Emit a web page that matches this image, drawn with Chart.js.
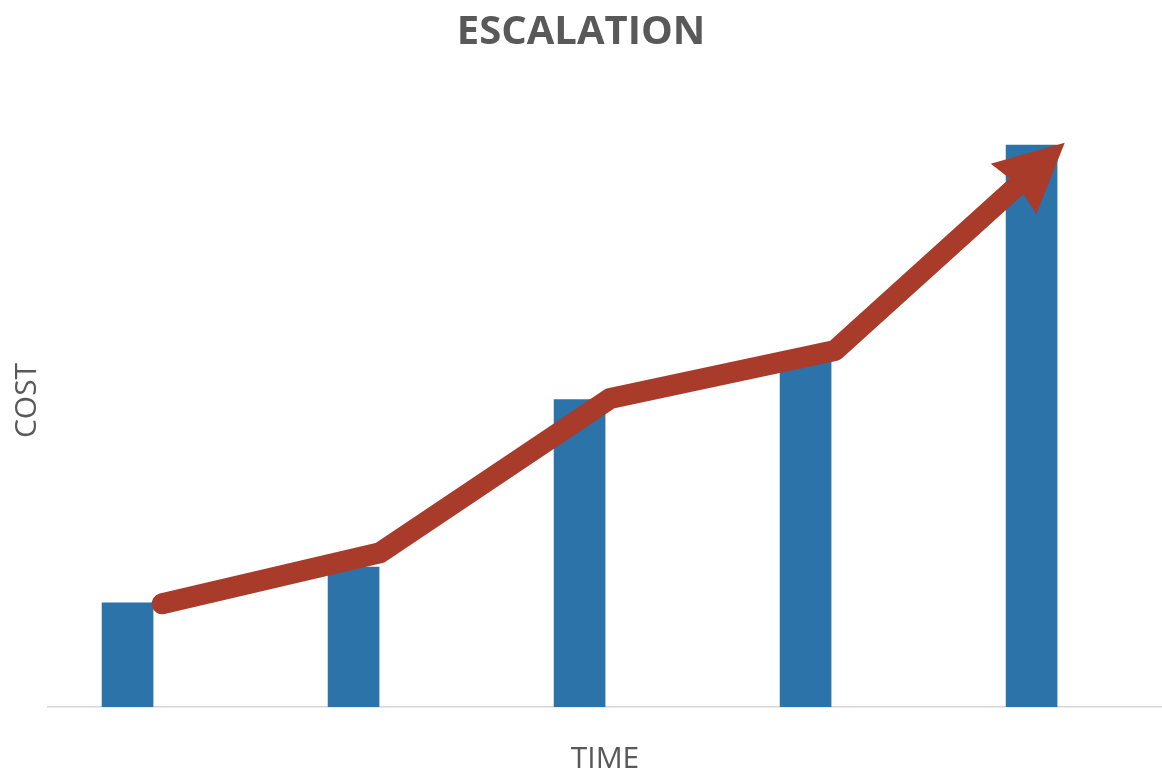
<!DOCTYPE html>
<html>
<head>
<meta charset="utf-8">
<script src="https://cdn.jsdelivr.net/npm/chart.js@4/dist/chart.umd.min.js"></script>
<style>
  html, body { margin: 0; padding: 0; background: #fff; }
  #wrap { width: 1162px; height: 773px; }
</style>
</head>
<body>
<div id="wrap"><canvas id="escalation" width="1162" height="773"></canvas></div>
<script>
// bars: one per period, cost
const periods = [1, 2, 3, 4, 5];
const costBars = [1.02, 1.37, 3.01, 3.38, 5.5];

// trend arrow vertices (sits a bit right of each bar centre)
const trendX = [1.153, 2.117, 3.135, 4.13, 4.93];
const trendY = [1.01, 1.51, 3.02, 3.49, 5.09];

const BLUE = '#2b73a9';
const RED = '#a93b2b';
const GREY = '#595959';

const arrowHead = {
  id: 'arrowHead',
  afterDatasetsDraw(chart) {
    const meta = chart.getDatasetMeta(1);
    const pts = meta.data;
    if (pts.length < 2) return;
    const a = pts[pts.length - 2], b = pts[pts.length - 1];
    const dx = b.x - a.x, dy = b.y - a.y;
    const len = Math.hypot(dx, dy);
    const ux = dx / len, uy = dy / len;
    const px = -uy, py = ux;
    const L = 66, W = 34;
    const ctx = chart.ctx;
    ctx.save();
    ctx.fillStyle = RED;
    ctx.beginPath();
    ctx.moveTo(b.x + ux * L, b.y + uy * L);
    ctx.lineTo(b.x + px * W - ux * 3, b.y + py * W - uy * 3);
    ctx.lineTo(b.x + ux * 3, b.y + uy * 3);
    ctx.lineTo(b.x - px * W - ux * 3, b.y - py * W - uy * 3);
    ctx.closePath();
    ctx.fill();
    ctx.restore();
  }
};

const ctx = document.getElementById('escalation').getContext('2d');
new Chart(ctx, {
  type: 'bar',
  data: {
    datasets: [
      {
        type: 'bar',
        data: periods.map((p, i) => ({ x: p, y: costBars[i] })),
        backgroundColor: BLUE,
        barThickness: 51,
        order: 2
      },
      {
        type: 'line',
        data: trendX.map((x, i) => ({ x, y: trendY[i] })),
        borderColor: RED,
        borderWidth: 21,
        borderCapStyle: 'round',
        borderJoinStyle: 'round',
        pointRadius: 0,
        tension: 0,
        order: 1
      }
    ]
  },
  options: {
    responsive: false,
    animation: false,
    layout: { padding: 0 },
    plugins: {
      legend: { display: false },
      tooltip: { enabled: false },
      title: {
        display: true,
        text: 'ESCALATION',
        color: GREY,
        font: { family: 'Open Sans', size: 40, weight: 'bold', lineHeight: 1.2 },
        padding: { top: 9, bottom: 37 }
      }
    },
    scales: {
      x: {
        type: 'linear',
        min: 0.648,
        max: 5.577,
        offset: false,
        grid: { display: false },
        ticks: { display: false },
        border: { display: true, color: '#d6d6d6', width: 1.5 },
        title: {
          display: true,
          text: 'TIME',
          color: GREY,
          font: { family: 'Open Sans', size: 30, lineHeight: 0.9 },
          padding: { top: 0, bottom: 0 }
        },
        afterFit: s => { s.height = 66; }
      },
      y: {
        min: 0,
        max: 6,
        grid: { display: false },
        ticks: { display: false },
        border: { display: false },
        title: {
          display: true,
          text: 'COST',
          color: GREY,
          font: { family: 'Open Sans', size: 30, lineHeight: 1.2 },
          padding: { top: 9, bottom: 0 }
        },
        afterFit: s => { s.width = 48; }
      }
    }
  },
  plugins: [arrowHead]
});
</script>
</body>
</html>
